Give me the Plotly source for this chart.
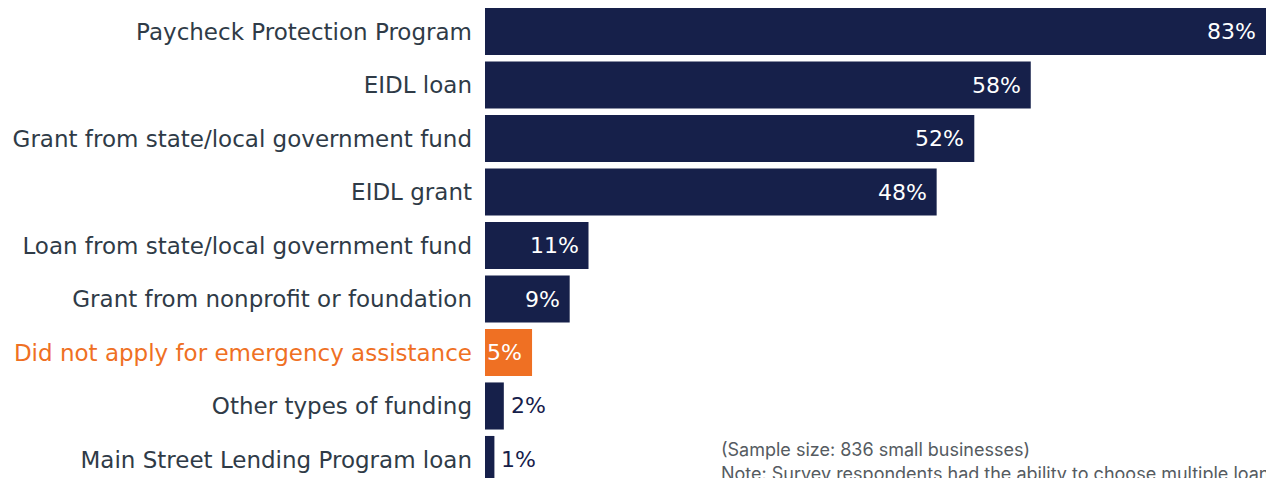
import plotly.graph_objects as go

categories = [
    "Paycheck Protection Program",
    "EIDL loan",
    "Grant from state/local government fund",
    "EIDL grant",
    "Loan from state/local government fund",
    "Grant from nonprofit or foundation",
    "Did not apply for emergency assistance",
    "Other types of funding",
    "Main Street Lending Program loan",
]
values = [83, 58, 52, 48, 11, 9, 5, 2, 1]
highlight = "Did not apply for emergency assistance"
notes = [
    "(Sample size: 836 small businesses)",
    "Note: Survey respondents had the ability to choose multiple loans and grants.",
]

NAVY = "#16204a"
ORANGE = "#ef7023"
LABEL = "#2f3b47"
FONT = "DejaVu Sans, sans-serif"
NOTE_FONT = "Inter, sans-serif"

colors = [ORANGE if c == highlight else NAVY for c in categories]
ticktext = [
    f"<span style='color:{ORANGE}'>{c}</span>" if c == highlight else c
    for c in categories
]

fig = go.Figure(
    go.Bar(
        x=values,
        y=list(range(len(categories))),
        orientation="h",
        marker=dict(color=colors, line=dict(width=0)),
        hoverinfo="skip",
    )
)

annotations = []
for i, v in enumerate(values):
    inside = v >= 5
    annotations.append(dict(
        x=v, y=i, xref="x", yref="y",
        text=f"{v}%",
        showarrow=False,
        xanchor="right" if inside else "left",
        xshift=-8 if inside else 5,
        font=dict(family=FONT, size=22, color="white" if inside else NAVY),
    ))

plot_w = 1266 - 485
for txt, ypx in zip(notes, [449, 473]):
    annotations.append(dict(
        x=(719 - 485) / plot_w, y=1 - ypx / 478, xref="paper", yref="paper",
        xanchor="left", yanchor="middle",
        text=txt, showarrow=False,
        font=dict(family=NOTE_FONT, size=18, color="#555b61"),
    ))

fig.update_layout(
    width=1266, height=478,
    margin=dict(l=485, r=0, t=0, b=0),
    paper_bgcolor="white", plot_bgcolor="white",
    bargap=0.12,
    showlegend=False,
    xaxis=dict(range=[0, 83], visible=False, fixedrange=True),
    yaxis=dict(
        range=[8.346, -0.589],
        tickmode="array",
        tickvals=list(range(len(categories))),
        ticktext=ticktext,
        ticks="",
        showgrid=False, zeroline=False, showline=False,
        ticklabelstandoff=12,
        tickfont=dict(family=FONT, size=23, color=LABEL),
    ),
    annotations=annotations,
)

fig.write_html("out.html")
